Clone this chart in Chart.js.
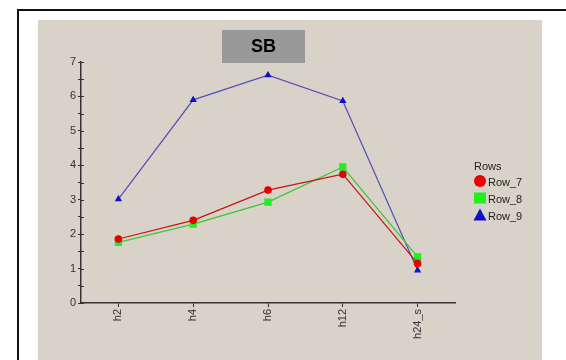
<!DOCTYPE html>
<html><head><meta charset="utf-8">
<script src="https://cdn.jsdelivr.net/npm/chart.js@4/dist/chart.umd.min.js"></script>
<style>html,body{margin:0;padding:0;background:#fff;overflow:hidden}#wrap{width:566px;height:360px;position:relative}</style>
</head><body><div id="wrap"><canvas id="c" width="566" height="360"></canvas></div>
<script>
const categories = ['h2', 'h4', 'h6', 'h12', 'h24_s'];
const seriesNames = ['Row_7', 'Row_8', 'Row_9'];
const row7 = [1.86, 2.40, 3.28, 3.74, 1.15];
const row8 = [1.76, 2.29, 2.93, 3.95, 1.34];
const row9 = [3.02, 5.90, 6.62, 5.87, 0.95];
const yMin = 0, yMax = 7;
const chartTitle = 'SB';
const legendTitle = 'Rows';

const FONT = '"Liberation Sans", Arial, sans-serif';

const framePlugin = {
  id: 'frame',
  beforeDraw(chart) {
    const ctx = chart.ctx;
    ctx.save();
    ctx.fillStyle = '#ffffff';
    ctx.fillRect(0, 0, 566, 360);
    ctx.fillStyle = '#d8d2c8';
    ctx.fillRect(38, 20, 504, 340);
    ctx.strokeStyle = '#111';
    ctx.lineWidth = 2;
    ctx.beginPath();
    ctx.moveTo(18, 362); ctx.lineTo(18, 10); ctx.lineTo(566, 10);
    ctx.stroke();
    ctx.restore();
  },
  afterDraw(chart) {
    const ctx = chart.ctx;
    ctx.save();
    // inner half of the y tick marks (ticks cross the axis line)
    const ys = chart.scales.y;
    ctx.strokeStyle = '#333';
    ctx.lineWidth = 1;
    ys.ticks.forEach((t) => {
      const py = Math.round(ys.getPixelForValue(t.value)) + 0.5;
      ctx.beginPath(); ctx.moveTo(ys.right, py); ctx.lineTo(ys.right + 3, py); ctx.stroke();
    });
    // title box
    ctx.fillStyle = '#999999';
    ctx.fillRect(222, 30, 83, 33);
    ctx.fillStyle = '#000';
    ctx.font = 'bold 18px ' + FONT;
    ctx.textAlign = 'center';
    ctx.textBaseline = 'middle';
    ctx.fillText(chartTitle, 263.5, 47);
    // legend
    ctx.textAlign = 'left';
    ctx.textBaseline = 'alphabetic';
    ctx.font = '11px ' + FONT;
    ctx.fillStyle = '#222';
    ctx.fillText(legendTitle, 474, 170);
    chart.data.datasets.forEach((ds, i) => {
      const cy = 181 + i * 17;
      const cx = 480;
      ctx.fillStyle = ds.pointBackgroundColor;
      ctx.beginPath();
      if (ds.pointStyle === 'circle') {
        ctx.arc(cx, cy, 6, 0, Math.PI * 2);
      } else if (ds.pointStyle === 'rect') {
        ctx.rect(cx - 6, cy - 5.5, 12, 11);
      } else {
        ctx.moveTo(cx, cy - 6.5); ctx.lineTo(cx + 6.5, cy + 5.5); ctx.lineTo(cx - 6.5, cy + 5.5); ctx.closePath();
      }
      ctx.fill();
      ctx.fillStyle = '#222';
      ctx.fillText(ds.label, 488, cy + 5);
    });
    ctx.restore();
  }
};

new Chart(document.getElementById('c'), {
  type: 'line',
  data: {
    labels: categories,
    datasets: [
      { label: seriesNames[0], data: row7, borderColor: '#c41414', backgroundColor: '#e80000',
        pointBackgroundColor: '#e80000', pointBorderColor: '#e80000', pointStyle: 'circle', pointRadius: 3.2, borderWidth: 1.2 },
      { label: seriesNames[1], data: row8, borderColor: '#38c838', backgroundColor: '#22ee22',
        pointBackgroundColor: '#22ee22', pointBorderColor: '#22ee22', pointStyle: 'rect', pointRadius: 4.3, borderWidth: 1.2 },
      { label: seriesNames[2], data: row9, borderColor: '#5050b8', backgroundColor: '#1010c8',
        pointBackgroundColor: '#1010c8', pointBorderColor: '#1010c8', pointStyle: 'triangle', pointRadius: 3, borderWidth: 1.2 }
    ]
  },
  options: {
    responsive: false,
    animation: false,
    devicePixelRatio: 1,
    layout: { padding: { left: 0, top: 62, right: 111, bottom: 0 } },
    plugins: { legend: { display: false }, title: { display: false }, tooltip: { enabled: false } },
    scales: {
      x: {
        offset: true,
        grid: { offset: false, drawOnChartArea: false, tickLength: 4, color: '#333', tickColor: '#333' },
        border: { color: '#333', width: 1.5 },
        ticks: { minRotation: 90, maxRotation: 90, padding: 2, color: '#333', font: { family: FONT, size: 11 } },
        afterFit(scale) { scale.height = 57; }
      },
      y: {
        min: yMin, max: yMax,
        grid: { drawOnChartArea: false, tickLength: 3, color: '#333', tickColor: '#333' },
        border: { color: '#333', width: 1.5 },
        ticks: { stepSize: 0.5, autoSkip: false, padding: 2, color: '#333', font: { family: FONT, size: 11 },
          callback: (v) => Number.isInteger(v) ? String(v) : '' },
        afterFit(scale) { scale.width = 81; }
      }
    }
  },
  plugins: [framePlugin]
});
</script>
</body></html>
